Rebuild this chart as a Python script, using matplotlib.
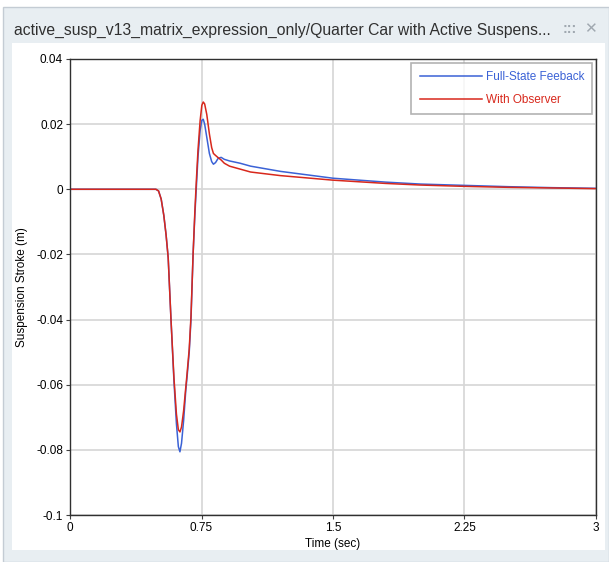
import numpy as np
import matplotlib
matplotlib.use('Agg')
import matplotlib.pyplot as plt
from matplotlib.patches import Rectangle

plt.rcParams['font.family'] = ['Liberation Sans', 'DejaVu Sans']

# --- datos ---
t_fsf = [0, 0.49, 0.505, 0.52, 0.535, 0.548, 0.56, 0.576, 0.593, 0.607, 0.618,
         0.627, 0.636, 0.648, 0.66, 0.667, 0.68, 0.69, 0.702, 0.712, 0.72, 0.73,
         0.742, 0.752, 0.76, 0.768, 0.78, 0.795, 0.808, 0.818, 0.83, 0.845,
         0.862, 0.88, 0.91, 0.97, 1.03, 1.2, 1.5, 1.8, 2.0, 2.25, 2.5, 2.75, 3.0]
y_fsf = [0, 0, -0.0005, -0.003, -0.008, -0.014, -0.021, -0.040, -0.059, -0.072,
         -0.079, -0.0806, -0.078, -0.071, -0.062, -0.058, -0.050, -0.040, -0.020,
         -0.008, 0.0, 0.010, 0.018, 0.0212, 0.0215, 0.020, 0.016, 0.011, 0.0085,
         0.0077, 0.0082, 0.0095, 0.0098, 0.0092, 0.0087, 0.0080, 0.0071, 0.0055,
         0.0034, 0.0022, 0.0016, 0.0012, 0.0008, 0.0005, 0.0003]

t_obs = [0, 0.49, 0.505, 0.52, 0.535, 0.548, 0.56, 0.576, 0.593, 0.607, 0.618,
         0.627, 0.636, 0.648, 0.66, 0.667, 0.68, 0.69, 0.702, 0.712, 0.72, 0.73,
         0.742, 0.752, 0.76, 0.768, 0.78, 0.795, 0.808, 0.818, 0.83, 0.845,
         0.862, 0.88, 0.91, 0.97, 1.03, 1.2, 1.5, 1.8, 2.0, 2.25, 2.5, 2.75, 3.0]
y_obs = [0, 0, -0.0005, -0.003, -0.008, -0.014, -0.021, -0.040, -0.058, -0.069,
         -0.0738, -0.0745, -0.073, -0.068, -0.061, -0.057, -0.049, -0.039, -0.020,
         -0.007, 0.002, 0.012, 0.021, 0.0258, 0.0268, 0.0262, 0.023, 0.017, 0.0128,
         0.011, 0.0104, 0.0097, 0.0090, 0.0080, 0.0071, 0.0062, 0.0053, 0.0042,
         0.0028, 0.0018, 0.0013, 0.0009, 0.0006, 0.0004, 0.0002]

x_ticks = [0, 0.75, 1.5, 2.25, 3]
x_tick_labels = ['0', '0.75', '1.5', '2.25', '3']
y_ticks = [-0.1, -0.08, -0.06, -0.04, -0.02, 0, 0.02, 0.04]
y_tick_labels = ['-0.1', '-0.08', '-0.06', '-0.04', '-0.02', '0', '0.02', '0.04']

titulo = 'active_susp_v13_matrix_expression_only/Quarter Car with Active Suspens...'

W, H = 609, 562
fig = plt.figure(figsize=(W / 100, H / 100), dpi=100)
fig.patch.set_facecolor('white')

def px(x, y, w, h):
    # rectangulo en pixeles (origen arriba-izquierda) -> fraccion de figura
    return (x / W, 1 - (y + h) / H), w / W, h / H

# panel tipo ventana (detras de los ejes)
(x0, y0), w, h = px(3, 7, 606, 555)
fig.patches.append(Rectangle((x0, y0), w, h, transform=fig.transFigure,
                             facecolor='#e8eef2', edgecolor='#c4ccd4', lw=1, zorder=-2))
(x0, y0), w, h = px(12, 43, 593, 507)
fig.patches.append(Rectangle((x0, y0), w, h, transform=fig.transFigure,
                             facecolor='white', edgecolor='none', zorder=-1))

fig.text(14 / W, 1 - 30 / H, titulo, fontsize=11.3, color='#303030', va='center', ha='left')
fig.text(563 / W, 1 - 29 / H, ':::', fontsize=10, color='#a0a8b0', va='center', ha='left',
         fontweight='bold')
fig.text(584 / W, 1 - 29 / H, '\u2715', fontsize=11, color='#a0a8b0', va='center', ha='left',
         family='DejaVu Sans')

ax = fig.add_axes([70 / W, 1 - 515 / H, 526 / W, 456 / H])
ax.plot(t_fsf, y_fsf, color='#3b62d6', lw=1.1, label='Full-State Feeback')
ax.plot(t_obs, y_obs, color='#d8281c', lw=1.1, label='With Observer')

ax.set_xlim(0, 3)
ax.set_ylim(-0.1, 0.04)
ax.set_xticks(x_ticks)
ax.set_xticklabels(x_tick_labels)
ax.set_yticks(y_ticks)
ax.set_yticklabels(y_tick_labels)
ax.tick_params(labelsize=8.5, length=3, width=0.8, color='#404040', pad=2)
ax.grid(True, color='#d6d6d6', lw=1.2)
ax.set_axisbelow(True)
for s in ax.spines.values():
    s.set_color('#303030')
    s.set_linewidth(1.0)

ax.set_xlabel('Time (sec)', fontsize=8.5, labelpad=3)
ax.set_ylabel('Suspension Stroke (m)', fontsize=8.5, labelpad=6)

leg = ax.legend(loc='upper right', fontsize=8.5, frameon=True, fancybox=False,
                handlelength=5.3, handletextpad=0.3, borderaxespad=0.3,
                labelspacing=0.95, borderpad=0.7)
leg.get_frame().set_edgecolor('#a0a0a0')
leg.get_frame().set_linewidth(1.2)
for txt, line in zip(leg.get_texts(), leg.get_lines()):
    txt.set_color(line.get_color())

fig.savefig('out.png', dpi=100)
